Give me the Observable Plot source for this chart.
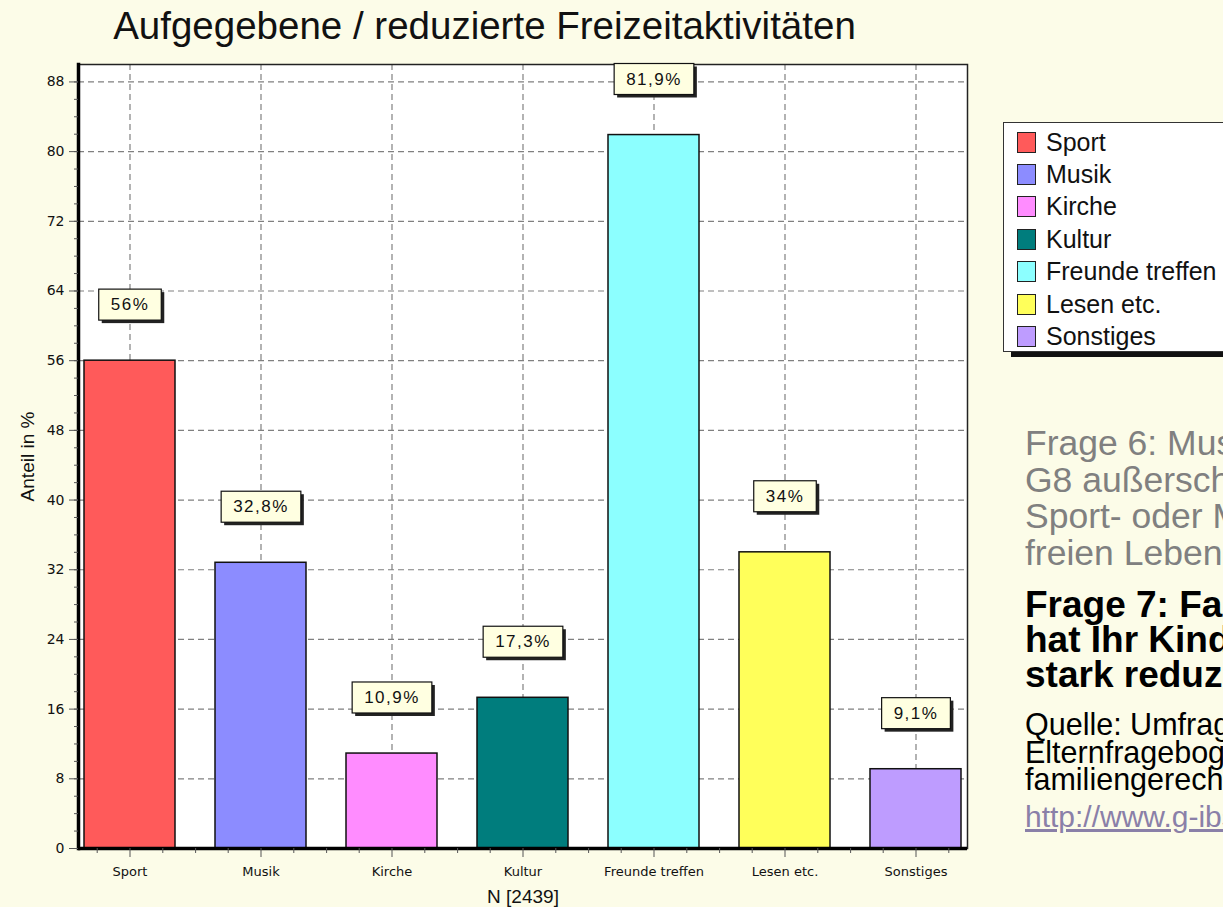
<!DOCTYPE html>
<html><head><meta charset="utf-8">
<script src="https://cdn.jsdelivr.net/npm/d3@7"></script>
<script src="https://cdn.jsdelivr.net/npm/@observablehq/plot@0.6"></script>
<style>
html,body{margin:0;padding:0;background:#fcfce8;}
#page{position:relative;width:1223px;height:907px;overflow:hidden;background:#fcfce8;font-family:"Liberation Sans",Arial,sans-serif;}
#title{position:absolute;left:0;top:7px;width:969px;text-align:center;font-size:38.5px;line-height:38px;color:#111;white-space:nowrap;}
#chart{position:absolute;left:0;top:0;}
#chart svg{overflow:visible;background:transparent;}
#chart [aria-label="y-axis label"] text{font-size:19px;font-family:"Liberation Sans",Arial,sans-serif;}
#chart [aria-label="x-axis label"] text{font-size:19px;font-family:"Liberation Sans",Arial,sans-serif;}
#chart .vl{letter-spacing:1.5px;}
#legend{position:absolute;left:1003px;top:122px;width:260px;height:230px;background:#fff;border:1px solid #333;box-shadow:8px 5px 0 #111;box-sizing:border-box;}
.li{position:absolute;left:13px;height:22px;display:flex;align-items:center;font-size:25px;color:#111;white-space:nowrap;}
.sw{width:17px;height:19px;border:1.5px solid #222;margin-right:10px;flex:none;}
.blk{position:absolute;left:1025px;white-space:nowrap;}
#q6{top:425px;font-size:35.5px;line-height:36.5px;color:#808080;}
#q7{top:587px;font-size:37px;line-height:35px;color:#000;font-weight:bold;}
#src{top:711px;font-size:30.5px;line-height:27.5px;color:#000;}
#lnk{top:802px;font-size:30px;line-height:29px;color:#8a80a8;text-decoration:underline;}
</style></head><body>
<div id="page">
  <div id="title">Aufgegebene / reduzierte Freizeitaktivitäten</div>
  <div id="chart"></div>
  <div id="legend"></div>
  <div id="q6" class="blk">Frage 6: Musste Ihr Kind wegen<br>G8 außerschulische Aktivitäten wie<br>Sport- oder Musikverein aus dem<br>freien Leben streichen?</div>
  <div id="q7" class="blk">Frage 7: Falls ja, welche Aktivitäten<br>hat Ihr Kind aufgegeben oder<br>stark reduziert?</div>
  <div id="src" class="blk">Quelle: Umfrage G8 2008<br>Elternfragebogen Initiative<br>familiengerechte Bildung</div>
  <div id="lnk" class="blk">http://www.g-ibs.de</div>
</div>
<script>
const categories = ["Sport", "Musik", "Kirche", "Kultur", "Freunde treffen", "Lesen etc.", "Sonstiges"];
const values = [56, 32.8, 10.9, 17.3, 81.9, 34, 9.1];
const colors = ["#ff5a5a", "#8c8cff", "#ff8cff", "#007d7d", "#8cffff", "#ffff5a", "#be9cff"];
const yTicks = [0, 8, 16, 24, 32, 40, 48, 56, 64, 72, 80, 88];
const yMinorTicks = d3.range(0, 90, 2);
const xTitle = "N [2439]";
const yTitle = "Anteil in %";

const data = categories.map((c, i) => ({cat: c, value: values[i]}));
const fmt = v => String(v).replace(".", ",") + "%";

const gridStyle = {stroke: "#808080", strokeOpacity: 1, strokeWidth: 1.2, strokeDasharray: "6,4"};

const plot = Plot.plot({
  width: 980,
  height: 907,
  marginTop: 64,
  marginBottom: 59,
  marginLeft: 78,
  marginRight: 13,
  style: {background: "transparent", fontFamily: "DejaVu Sans, sans-serif", color: "#111"},
  x: {domain: categories, paddingInner: 0.306, paddingOuter: 0.038},
  y: {domain: [0, 90]},
  color: {domain: categories, range: colors},
  marks: [
    Plot.frame({fill: "#fff", stroke: "none"}),
    Plot.gridY({ticks: yTicks, ...gridStyle}),
    Plot.gridX({...gridStyle}),
    Plot.barY(data, {x: "cat", y: "value", fill: "cat", stroke: "#111", strokeWidth: 1.5}),
    Plot.frame({stroke: "#222", strokeWidth: 1.5}),
    Plot.ruleY([0], {stroke: "#000", strokeWidth: 3.5}),
    Plot.frame({anchor: "left", stroke: "#000", strokeWidth: 3.5}),
    Plot.axisY({ticks: yMinorTicks, tickSize: 4, text: null, label: null, stroke: "#555"}),
    Plot.axisY({ticks: yTicks, tickSize: 9, tickPadding: 5, fontSize: 14, stroke: "#555",
      label: yTitle, labelAnchor: "center", labelArrow: "none", labelOffset: 58}),
    Plot.axisX({tickSize: 5, text: null, label: null, dx: -32.8, stroke: "#555"}),
    Plot.axisX({tickSize: 5, text: null, label: null, dx: 32.8, stroke: "#555"}),
    Plot.axisX({ticks: categories.slice(0, -1), tickSize: 5, text: null, label: null, dx: 65.6, stroke: "#555"}),
    Plot.axisX({tickSize: 9, tickPadding: 9, fontSize: 13, stroke: "#555",
      label: xTitle, labelAnchor: "center", labelArrow: "none", labelOffset: 54}),
    Plot.text(data, {x: "cat", y: "value", text: d => fmt(d.value), dy: -56, fontSize: 17,
      fontFamily: "Liberation Sans, Arial, sans-serif", fill: "#111"})
  ]
});
document.getElementById("chart").appendChild(plot);

// boxes behind value labels (text elements whose content is a value label)
const ns = "http://www.w3.org/2000/svg";
const labelSet = new Set(values.map(fmt));
const labelTexts = Array.from(plot.querySelectorAll("text")).filter(t => labelSet.has(t.textContent));
labelTexts.forEach(t => {
  t.classList.add("vl");
  let b;
  try { b = t.getBBox(); } catch (e) { b = null; }
  if (!b || !b.width) {
    const w0 = t.getComputedTextLength ? t.getComputedTextLength() : 40;
    b = {x: +t.getAttribute("x") - w0 / 2, y: +t.getAttribute("y") - 12, width: w0, height: 17};
  }
  const padX = 12, padY = 6;
  const w = b.width + 2 * padX, h = b.height + 2 * padY;
  const sh = document.createElementNS(ns, "rect");
  sh.setAttribute("x", b.x - padX + 3); sh.setAttribute("y", b.y - padY + 3);
  sh.setAttribute("width", w); sh.setAttribute("height", h);
  sh.setAttribute("fill", "#222");
  if (t.getAttribute("transform")) sh.setAttribute("transform", t.getAttribute("transform"));
  const r = document.createElementNS(ns, "rect");
  r.setAttribute("x", b.x - padX); r.setAttribute("y", b.y - padY);
  r.setAttribute("width", w); r.setAttribute("height", h);
  r.setAttribute("fill", "#ffffe1"); r.setAttribute("stroke", "#111"); r.setAttribute("stroke-width", 1.2);
  if (t.getAttribute("transform")) r.setAttribute("transform", t.getAttribute("transform"));
  t.parentNode.insertBefore(sh, t);
  t.parentNode.insertBefore(r, t);
});

// legend from the same color scale
const color = plot.scale("color");
const leg = document.getElementById("legend");
color.domain.forEach((c, i) => {
  const row = document.createElement("div");
  row.className = "li";
  row.style.top = (8 + i * 32.4) + "px";
  const sw = document.createElement("span");
  sw.className = "sw";
  sw.style.background = color.range[i];
  row.appendChild(sw);
  row.appendChild(document.createTextNode(c));
  leg.appendChild(row);
});
</script>
</body></html>
